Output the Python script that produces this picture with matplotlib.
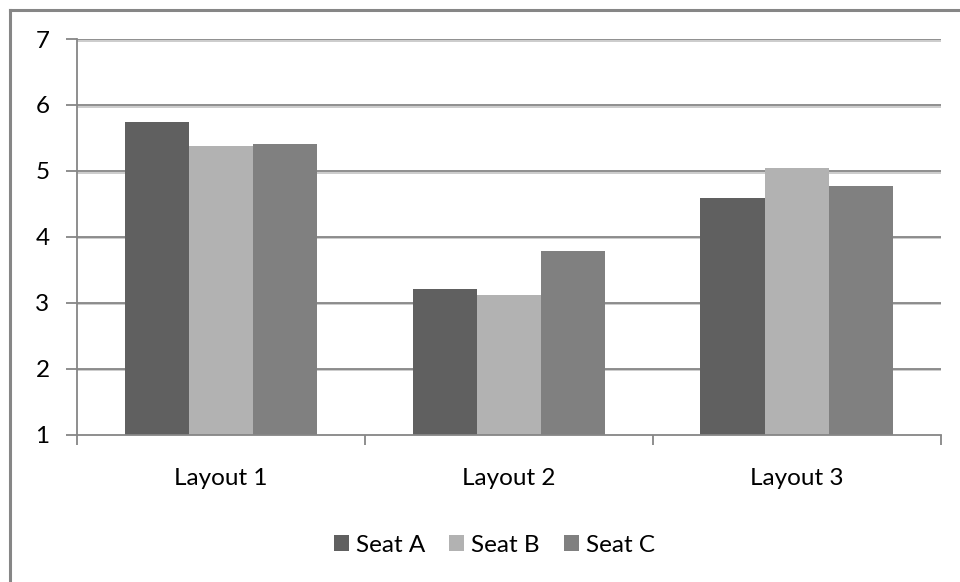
import matplotlib
matplotlib.use("Agg")
import matplotlib.pyplot as plt
import matplotlib.patheffects as pe
from matplotlib.patches import Rectangle, Patch
from matplotlib.lines import Line2D
import numpy as np

categories = ["Layout 1", "Layout 2", "Layout 3"]
series_names = ["Seat A", "Seat B", "Seat C"]
seat_a = [5.74, 3.20, 4.59]
seat_b = [5.37, 3.12, 5.05]
seat_c = [5.40, 3.79, 4.77]
y_ticks = [1, 2, 3, 4, 5, 6, 7]

colors = ["#606060", "#b2b2b2", "#808080"]
axis_color = "#868686"
font = ["Lato", "DejaVu Sans"]
plt.rcParams["font.family"] = font

W, H = 960, 582
fig = plt.figure(figsize=(W / 100, H / 100), dpi=100)
fig.patch.set_facecolor("white")

left, right, bottom, top = 77.3, 940.5, 434.5, 39.0
ax = fig.add_axes([left / W, 1 - bottom / H, (right - left) / W, (bottom - top) / H])

ax.set_xlim(0, 3)
ax.set_ylim(1, 7)

bar_w = 0.2228
x = np.arange(len(categories)) + 0.5
for i, (vals, name) in enumerate(zip([seat_a, seat_b, seat_c], series_names)):
    ax.bar(x + (i - 1) * bar_w, [v - 1 for v in vals], bottom=1, width=bar_w,
           color=colors[i], label=name, zorder=3, linewidth=0)

# horizontal gridlines with a soft shadow
for yv in y_ticks[1:]:
    ax.axhline(yv, color=axis_color, lw=1.3, zorder=1,
               path_effects=[pe.SimpleLineShadow(offset=(0, -1.2), shadow_color="#c8c8c8", alpha=1),
                             pe.Normal()])

for s in ["top", "right"]:
    ax.spines[s].set_visible(False)
for s in ["left", "bottom"]:
    ax.spines[s].set_color(axis_color)
    ax.spines[s].set_linewidth(1.3)
    ax.spines[s].set_zorder(4)

ax.set_yticks(y_ticks)
ax.set_yticklabels([str(t) for t in y_ticks])
ax.tick_params(axis="y", direction="out", length=8, width=1.3, color=axis_color,
               labelsize=17.5, pad=12, labelcolor="black")

ax.set_xticks(x)
ax.set_xticklabels(categories)
ax.tick_params(axis="x", which="major", length=0, labelsize=17.5, pad=24, labelcolor="black")
ax.set_xticks([0, 1, 2, 3], minor=True)
ax.tick_params(axis="x", which="minor", direction="out", length=7.5, width=1.3, color=axis_color)

handles = [Patch(facecolor=c, edgecolor="none", label=n) for c, n in zip(colors, series_names)]
fig.legend(handles=handles, loc="center", bbox_to_anchor=(494.5 / W, 1 - 545 / H),
           ncol=3, frameon=False, fontsize=17.5, handlelength=0.62, handleheight=0.62,
           handletextpad=0.28, columnspacing=1.0, borderpad=0)

# outer chart border (left and top edges)
fig.add_artist(Line2D([9.5 / W, 9.5 / W], [0, 1 - 9.5 / H], color=axis_color, lw=2.2,
                      transform=fig.transFigure))
fig.add_artist(Line2D([9.5 / W, 1], [1 - 9.5 / H, 1 - 9.5 / H], color=axis_color, lw=2.2,
                      transform=fig.transFigure))

fig.savefig("out.png", dpi=100, facecolor="white")
